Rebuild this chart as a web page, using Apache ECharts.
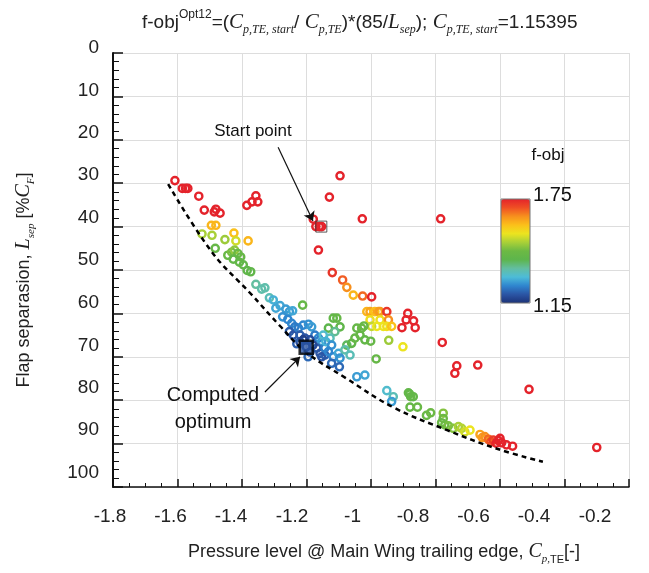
<!DOCTYPE html>
<html>
<head>
<meta charset="utf-8">
<script src="https://cdn.jsdelivr.net/npm/echarts@6.0.0/dist/echarts.min.js"></script>
<style>
html, body {margin: 0; padding: 0; background: #fff;}
#chartmain {width: 649px; height: 573px;}
</style>
</head>
<body>
<div id="chartmain"></div>
<script>
// design points: pressure level Cp,TE, flap separation Lsep, f-obj colour value
var cpTE = [
    -1.608, -1.585, -1.575, -1.568, -1.534, -1.517, -1.486, -1.481, -1.468, -1.385, -1.369, -1.357, -1.351,
    -1.495, -1.481, -1.524, -1.493, -1.453, -1.425, -1.419, -1.381, -1.483,
    -1.444, -1.432, -1.423, -1.413, -1.404, -1.427, -1.408, -1.396, -1.384, -1.373,
    -1.357, -1.339, -1.329, -1.315, -1.303, -1.295, -1.282, -1.264, -1.253, -1.243,
    -1.274, -1.258, -1.246, -1.236, -1.253, -1.241, -1.225, -1.210, -1.194, -1.184,
    -1.220, -1.205, -1.174, -1.163, -1.153, -1.168, -1.158, -1.143, -1.153,
    -1.189, -1.180, -1.220, -1.143, -1.189, -1.210, -1.230, -1.195, -1.201,
    -1.132, -1.117, -1.106, -1.096, -1.112, -1.127, -1.148, -1.140, -1.122, -1.132,
    -1.117, -1.101, -1.096, -1.122, -1.098, -1.075, -1.060, -1.050, -1.044, -1.029,
    -1.034, -1.019, -1.081, -1.065, -1.212,
    -1.096, -1.129, -1.179, -1.171, -1.160, -1.153, -1.027, -0.784, -1.163, -1.120,
    -1.088, -1.075, -1.055, -1.026, -0.998,
    -1.013, -1.003, -0.988, -0.977, -0.972, -0.951, -1.003, -0.972, -0.946,
    -0.998, -0.982, -0.962, -0.951, -0.936,
    -0.886, -0.891, -0.868, -0.863, -0.904,
    -1.022, -1.001, -0.945, -0.901, -0.984,
    -0.779, -0.734, -0.740, -0.669, -0.510, -0.300,
    -1.044, -1.019, -0.951, -0.931, -0.936, -0.884, -0.877, -0.869, -0.880, -0.879,
    -0.856, -0.828, -0.815, -0.776, -0.776, -0.781, -0.771, -0.760, -0.745, -0.729,
    -0.719, -0.709, -0.693, -0.662, -0.655, -0.647, -0.636, -0.628, -0.621, -0.612,
    -0.605, -0.600, -0.595, -0.580, -0.561
];
var lSep = [
    29.4, 31.2, 31.2, 31.2, 33.0, 36.2, 36.6, 36.0, 36.9, 35.1, 34.3, 32.9, 34.3,
    39.7, 39.7, 41.7, 42.0, 43.0, 41.5, 43.3, 43.3, 45.0,
    46.6, 45.9, 45.4, 46.2, 47.0, 47.5, 48.2, 48.8, 50.1, 50.4,
    53.3, 54.4, 54.1, 56.4, 56.9, 58.8, 58.2, 59.0, 59.6, 59.4,
    60.8, 61.4, 62.3, 63.1, 64.2, 65.0, 63.4, 62.7, 62.5, 63.1,
    65.0, 65.7, 65.0, 65.7, 66.5, 68.0, 69.2, 69.6, 70.0,
    66.1, 67.3, 66.6, 68.0, 68.9, 66.1, 67.0, 70.0, 67.7,
    63.4, 61.1, 61.1, 63.1, 64.2, 65.7, 65.0, 66.5, 67.3, 68.8,
    70.0, 69.2, 70.3, 71.5, 72.3, 67.3, 66.9, 65.7, 63.4, 63.4,
    65.0, 66.1, 68.4, 69.6, 58.1,
    28.3, 33.2, 38.3, 40.0, 40.0, 40.0, 38.2, 38.2, 45.4, 50.6,
    52.3, 54.0, 55.8, 56.0, 56.2,
    59.6, 59.6, 59.6, 59.6, 59.6, 59.6, 61.5, 61.5, 61.5,
    63.0, 63.0, 63.0, 63.0, 63.0,
    60.0, 61.5, 61.7, 63.3, 63.3,
    62.9, 66.4, 66.2, 67.7, 70.5,
    66.7, 72.1, 73.8, 71.9, 77.5, 90.9,
    74.6, 74.2, 77.8, 79.2, 80.3, 78.3, 79.2, 79.2, 78.6, 81.6,
    81.6, 83.5, 82.9, 83.0, 84.2, 85.2, 85.7, 85.9, 86.5, 86.1,
    86.5, 87.3, 86.9, 87.9, 88.6, 88.4, 89.0, 89.6, 89.2, 89.9,
    89.3, 88.8, 89.8, 90.3, 90.6
];
var fObj = [
    1.75, 1.75, 1.75, 1.75, 1.75, 1.75, 1.75, 1.75, 1.75, 1.75, 1.75, 1.75, 1.75,
    1.61, 1.61, 1.50, 1.50, 1.49, 1.60, 1.53, 1.61, 1.43,
    1.44, 1.46, 1.48, 1.44, 1.43, 1.42, 1.42, 1.42, 1.41, 1.41,
    1.35, 1.34, 1.34, 1.33, 1.29, 1.28, 1.28, 1.27, 1.27, 1.28,
    1.26, 1.25, 1.25, 1.24, 1.21, 1.20, 1.24, 1.25, 1.26, 1.27,
    1.21, 1.20, 1.24, 1.25, 1.27, 1.21, 1.20, 1.21, 1.20,
    1.19, 1.18, 1.19, 1.24, 1.19, 1.17, 1.21, 1.22, 1.17,
    1.40, 1.42, 1.43, 1.41, 1.36, 1.33, 1.31, 1.29, 1.26, 1.25,
    1.25, 1.28, 1.26, 1.22, 1.22, 1.39, 1.41, 1.43, 1.43, 1.44,
    1.43, 1.42, 1.34, 1.33, 1.43,
    1.75, 1.75, 1.75, 1.75, 1.75, 1.75, 1.75, 1.75, 1.75, 1.73,
    1.69, 1.65, 1.61, 1.68, 1.75,
    1.61, 1.63, 1.60, 1.63, 1.64, 1.73, 1.56, 1.56, 1.65,
    1.52, 1.55, 1.55, 1.56, 1.60,
    1.75, 1.75, 1.75, 1.75, 1.75,
    1.44, 1.43, 1.49, 1.55, 1.43,
    1.75, 1.75, 1.75, 1.75, 1.75, 1.75,
    1.27, 1.28, 1.31, 1.33, 1.27, 1.42, 1.43, 1.42, 1.42, 1.43,
    1.44, 1.44, 1.45, 1.47, 1.45, 1.44, 1.45, 1.46, 1.47, 1.50,
    1.51, 1.53, 1.55, 1.63, 1.64, 1.65, 1.68, 1.70, 1.72, 1.75,
    1.75, 1.75, 1.75, 1.75, 1.75
];

// dashed pareto-like bound
var boundCp = [-1.629, -1.493, -1.375, -1.282, -1.202, -1.078, -0.932, -0.764, -0.609, -0.467];
var boundL = [30.2, 45.9, 55.3, 62.9, 68.9, 74.9, 81.6, 86.9, 91.2, 94.2];

var startPoint = [-1.154, 40.0];
var optimumPoint = [-1.201, 67.8];
var startArrow = [[-1.288, 21.7], [-1.180, 38.7]];
var optimumArrow = [[-1.329, 78.1], [-1.220, 70.0]];

var fobjRange = [1.15, 1.75];
var fobjColors = ['#1c3377', '#2b55a5', '#2f86cf', '#4dbcd8', '#63bea0', '#5db54c', '#6cb944',
    '#a9d038', '#ece41f', '#fbc01a', '#f7901e', '#ef4f24', '#e4232b'];

var points = cpTE.map(function (x, i) {
    return [x, lSep[i], fObj[i]];
});
var bound = boundCp.map(function (x, i) {
    return [x, boundL[i]];
});

var font = 'Liberation Sans';
var serif = 'Liberation Serif';

// tick labels in the original are a bit squeezed towards the origin
var xRich = {};
for (var k = 0; k <= 8; k++) {
    xRich['s' + k] = {fontSize: 19, fontFamily: font, color: '#222', padding: [0, Math.round(2 * (3 + 3.9 * k)), 0, 0]};
}
var yRich = {};
for (var k = 0; k <= 10; k++) {
    yRich['s' + k] = {fontSize: 19, fontFamily: font, color: '#222', padding: [0, 0, Math.round(2 * (5 + 0.95 * k)), 0]};
}

var textBits = function (size) {
    return {
        n: {fontSize: size, fontFamily: font, fontWeight: 'normal', color: '#222', lineHeight: size + 8},
        sup: {fontSize: size - 7, fontFamily: font, fontWeight: 'normal', color: '#222', verticalAlign: 'top', lineHeight: size - 5},
        i: {fontSize: size + 2, fontFamily: serif, fontStyle: 'italic', fontWeight: 'normal', color: '#222', lineHeight: size + 8},
        sub: {fontSize: size - 7, fontFamily: serif, fontStyle: 'italic', fontWeight: 'normal', color: '#222', verticalAlign: 'bottom', lineHeight: size - 4},
        subn: {fontSize: size - 7, fontFamily: font, fontWeight: 'normal', color: '#222', verticalAlign: 'bottom', lineHeight: size - 4}
    };
};

var myChart = echarts.init(document.getElementById('chartmain'));
var option = {
    backgroundColor: '#fff',
    animation: false,
    title: {
        left: 137,
        top: 4,
        text: '{n|f-obj}{sup|Opt12}{n|=(}{i|C}{sub|p,TE, start}{n|/ }{i|C}{sub|p,TE}{n|)*(85/}{i|L}{sub|sep}{n|); }{i|C}{sub|p,TE, start}{n|=1.15395}',
        textStyle: {fontWeight: 'normal', rich: textBits(19)}
    },
    grid: {left: 113, right: 20, top: 53, bottom: 86},
    visualMap: {
        type: 'continuous',
        seriesIndex: 0,
        dimension: 2,
        min: fobjRange[0],
        max: fobjRange[1],
        calculable: false,
        left: 501,
        top: 199,
        itemWidth: 29,
        itemHeight: 104,
        padding: 0,
        inRange: {color: fobjColors}
    },
    xAxis: {
        type: 'value',
        min: -1.8,
        max: -0.2,
        interval: 0.2,
        name: '{n|Pressure level @ Main Wing trailing edge, }{i|C}{sub|p,}{subn|TE}{n|[-]}',
        nameLocation: 'middle',
        nameGap: 52,
        nameTextStyle: {padding: [0, 0, 0, 26], rich: textBits(18)},
        axisLine: {onZero: false, lineStyle: {color: '#111', width: 1.5}},
        axisTick: {inside: true, length: 8, lineStyle: {color: '#111', width: 1.5}},
        minorTick: {show: true, splitNumber: 4, length: 4, lineStyle: {color: '#111'}},
        splitLine: {show: true, lineStyle: {color: '#ddd'}},
        axisLabel: {
            margin: 20,
            rich: xRich,
            formatter: function (value) {
                var k = Math.round((value + 1.8) / 0.2);
                return '{s' + k + '|' + (+value.toFixed(1)) + '}';
            }
        }
    },
    yAxis: {
        type: 'value',
        inverse: true,
        min: 0,
        max: 100,
        interval: 10,
        name: '{n|Flap separasion, }{i|L}{sub|sep}{n| [%}{i|C}{sub|F}{n|]}',
        nameLocation: 'middle',
        nameGap: 76,
        nameTextStyle: {padding: [0, 20, 0, 0], rich: textBits(18)},
        axisLine: {onZero: false, lineStyle: {color: '#111', width: 2}},
        axisTick: {inside: true, length: 10, lineStyle: {color: '#111', width: 1.5}},
        minorTick: {show: true, splitNumber: 5, length: 6, lineStyle: {color: '#111'}},
        splitLine: {show: true, lineStyle: {color: '#ddd'}},
        axisLabel: {
            margin: 14,
            rich: yRich,
            formatter: function (value) {
                var k = Math.round(value / 10);
                return '{s' + k + '|' + value + '}';
            }
        }
    },
    graphic: [
        {type: 'rect', z: 100, shape: {x: 501, y: 199, width: 29, height: 104}, style: {fill: 'none', stroke: '#777', lineWidth: 1}},
        {type: 'text', z: 100, x: 253, y: 131, style: {text: 'Start point', fontSize: 17, fontFamily: font, fill: '#111', align: 'center', verticalAlign: 'middle'}},
        {type: 'text', z: 100, x: 213, y: 395, style: {text: 'Computed', fontSize: 20, fontFamily: font, fill: '#111', align: 'center', verticalAlign: 'middle'}},
        {type: 'text', z: 100, x: 213, y: 422, style: {text: 'optimum', fontSize: 20, fontFamily: font, fill: '#111', align: 'center', verticalAlign: 'middle'}},
        {type: 'text', z: 100, x: 548, y: 155, style: {text: 'f-obj', fontSize: 17, fontFamily: font, fill: '#111', align: 'center', verticalAlign: 'middle'}},
        {type: 'text', z: 100, x: 533, y: 195, style: {text: '1.75', fontSize: 20, fontFamily: font, fill: '#111', align: 'left', verticalAlign: 'middle'}},
        {type: 'text', z: 100, x: 533, y: 306, style: {text: '1.15', fontSize: 20, fontFamily: font, fill: '#111', align: 'left', verticalAlign: 'middle'}}
    ],
    series: [
        {
            name: 'f-obj',
            type: 'custom',
            data: points,
            encode: {x: 0, y: 1},
            renderItem: function (params, api) {
                var p = api.coord([api.value(0), api.value(1)]);
                return {
                    type: 'circle',
                    shape: {cx: p[0], cy: p[1], r: 3.6},
                    style: {fill: 'none', stroke: api.visual('color'), lineWidth: 2.4}
                };
            }
        },
        {
            name: 'bound',
            type: 'line',
            data: bound,
            smooth: 0.4,
            symbol: 'none',
            lineStyle: {color: '#000', width: 2.5, type: [5, 4]},
            z: 3
        },
        {
            name: 'start',
            type: 'scatter',
            data: [startPoint],
            symbol: 'rect',
            symbolSize: 11,
            itemStyle: {color: 'rgba(0,0,0,0)', borderColor: '#333', borderWidth: 1},
            z: 4,
            markLine: {
                silent: true,
                symbol: ['none', 'arrow'],
                symbolSize: 9,
                label: {show: false},
                lineStyle: {color: '#111', width: 1.2, type: 'solid'},
                data: [
                    [{coord: startArrow[0]}, {coord: startArrow[1]}],
                    [{coord: optimumArrow[0]}, {coord: optimumArrow[1]}]
                ]
            }
        },
        {
            name: 'optimum',
            type: 'scatter',
            data: [optimumPoint],
            symbol: 'rect',
            symbolSize: 13,
            itemStyle: {color: '#2b55a5', borderColor: '#000', borderWidth: 2.5},
            z: 4
        }
    ]
};
myChart.setOption(option);
</script>
</body>
</html>
